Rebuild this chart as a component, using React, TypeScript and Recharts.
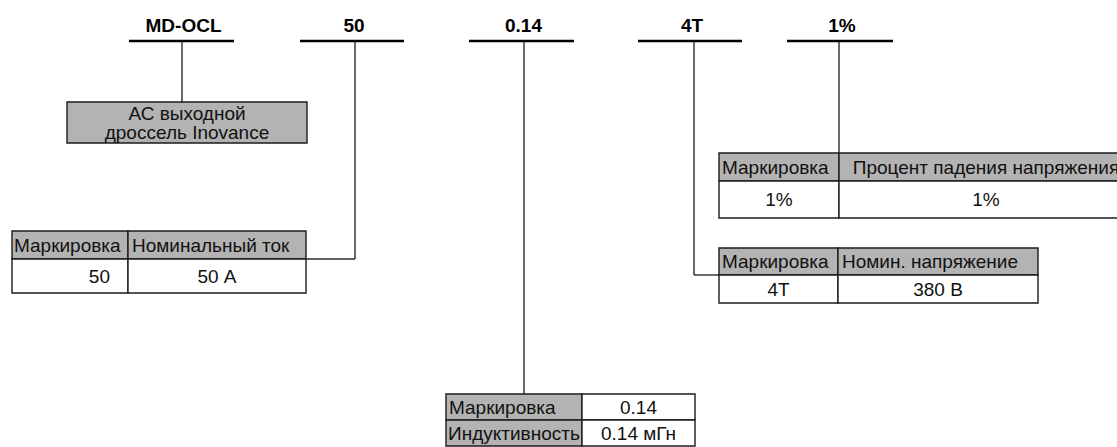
import React from 'react';
import { ComposedChart, XAxis, YAxis, ReferenceLine, ReferenceArea } from 'recharts';

const W = 1117;
const H = 447;
const FONT = '"Liberation Sans", Arial, sans-serif';
const GRAY = '#b3b3b3';
const INK = '#1c1c1c';

// model code, split into its parts
const codeParts = ['MD-OCL', '50', '0.14', '4T', '1%'];
const productName = ['АС выходной', 'дроссель Inovance'];

// decoding tables
const currentHeader = ['Маркировка', 'Номинальный ток'];
const currentRow = ['50', '50 А'];
const inductanceRows = [
  ['Маркировка', '0.14'],
  ['Индуктивность', '0.14 мГн'],
];
const voltageHeader = ['Маркировка', 'Номин. напряжение'];
const voltageRow = ['4T', '380 В'];
const dropHeader = ['Маркировка', 'Процент падения напряжения'];
const dropRow = ['1%', '1%'];

// ---- layout of the diagram (pixels) ----
const UNDER_Y = 41;
const underlines = [
  [129, 234],
  [300, 404],
  [469, 574],
  [638, 742],
  [787, 893],
];
const connectors = [
  [[182, 41], [182, 102]],
  [[355, 41], [355, 259], [306, 259]],
  [[524, 41], [524, 394]],
  [[694, 41], [694, 275], [719, 275]],
  [[839, 41], [839, 153]],
];
const productBox = { x1: 67, x2: 307, y1: 102, y2: 143 };

type Pos = 'insideLeft' | 'insideRight' | 'center';
type TableLayout = {
  xs: number[];
  ys: number[];
  fills: string[][];
  pos: [Pos, number][][];
};

const tables: { rows: string[][]; layout: TableLayout }[] = [
  {
    rows: [currentHeader, currentRow],
    layout: {
      xs: [12, 128, 306],
      ys: [231, 259, 293],
      fills: [[GRAY, GRAY], ['#fff', '#fff']],
      pos: [
        [['insideLeft', 2], ['insideLeft', 4]],
        [['insideRight', 18], ['center', 0]],
      ],
    },
  },
  {
    rows: inductanceRows,
    layout: {
      xs: [446, 582, 695],
      ys: [394, 420, 446],
      fills: [[GRAY, '#fff'], [GRAY, '#fff']],
      pos: [
        [['insideLeft', 3], ['center', 0]],
        [['insideLeft', 2], ['center', 0]],
      ],
    },
  },
  {
    rows: [voltageHeader, voltageRow],
    layout: {
      xs: [719, 838, 1038],
      ys: [248, 275, 303],
      fills: [[GRAY, GRAY], ['#fff', '#fff']],
      pos: [
        [['insideLeft', 3], ['insideLeft', 4]],
        [['center', 0], ['center', 0]],
      ],
    },
  },
  {
    rows: [dropHeader, dropRow],
    layout: {
      xs: [719, 839, 1133],
      ys: [153, 181, 218],
      fills: [[GRAY, GRAY], ['#fff', '#fff']],
      pos: [
        [['insideLeft', 3], ['center', 0]],
        [['center', 0], ['center', 0]],
      ],
    },
  },
];

const renderTable = (t: { rows: string[][]; layout: TableLayout }, ti: number) =>
  t.rows.flatMap((row, r) =>
    row.map((text, c) => {
      const [position, offset] = t.layout.pos[r][c];
      return (
        <ReferenceArea
          key={`t${ti}-${r}-${c}`}
          x1={t.layout.xs[c]}
          x2={t.layout.xs[c + 1]}
          y1={t.layout.ys[r]}
          y2={t.layout.ys[r + 1]}
          fill={t.layout.fills[r][c]}
          fillOpacity={1}
          stroke={INK}
          strokeWidth={1.4}
          ifOverflow="hidden"
          label={{ value: text, position, offset, fill: '#111', fontSize: 19, fontFamily: FONT }}
        />
      );
    })
  );

const ProductLabel = (props: any) => {
  const vb = props.viewBox;
  const cx = vb.x + vb.width / 2;
  const cy = vb.y + vb.height / 2;
  return (
    <text x={cx} textAnchor="middle" fontSize={19} fontFamily={FONT} fill="#111">
      {productName.map((line, i) => (
        <tspan key={i} x={cx} y={cy + 6.7 + (i - (productName.length - 1) / 2) * 19}>
          {line}
        </tspan>
      ))}
    </text>
  );
};

export default function App() {
  return (
    <div style={{ width: W, height: H, background: '#fff' }}>
      <style>{'body{margin:0}'}</style>
      <ComposedChart width={W} height={H} data={[]} margin={{ top: 0, right: 0, bottom: 0, left: 0 }}>
        <XAxis type="number" dataKey="x" scale="linear" domain={[0, W]} hide allowDataOverflow />
        <YAxis type="number" dataKey="y" scale="linear" domain={[0, H]} reversed hide allowDataOverflow />

        {connectors.flatMap((pts, i) =>
          pts.slice(1).map((p, j) => (
            <ReferenceLine
              key={`c${i}-${j}`}
              segment={[
                { x: pts[j][0], y: pts[j][1] },
                { x: p[0], y: p[1] },
              ]}
              stroke="#2a2a2a"
              strokeWidth={1.4}
            />
          ))
        )}

        {codeParts.map((code, i) => (
          <ReferenceLine
            key={`u${i}`}
            segment={[
              { x: underlines[i][0], y: UNDER_Y },
              { x: underlines[i][1], y: UNDER_Y },
            ]}
            stroke="#000"
            strokeWidth={2.6}
            label={{
              value: code,
              position: 'top',
              offset: 9,
              fill: '#000',
              fontSize: 19,
              fontWeight: 'bold',
              fontFamily: FONT,
              dx: 2,
            }}
          />
        ))}

        <ReferenceArea
          {...productBox}
          fill={GRAY}
          fillOpacity={1}
          stroke={INK}
          strokeWidth={1.4}
          label={<ProductLabel />}
        />

        {tables.map((t, i) => renderTable(t, i))}
      </ComposedChart>
    </div>
  );
}
